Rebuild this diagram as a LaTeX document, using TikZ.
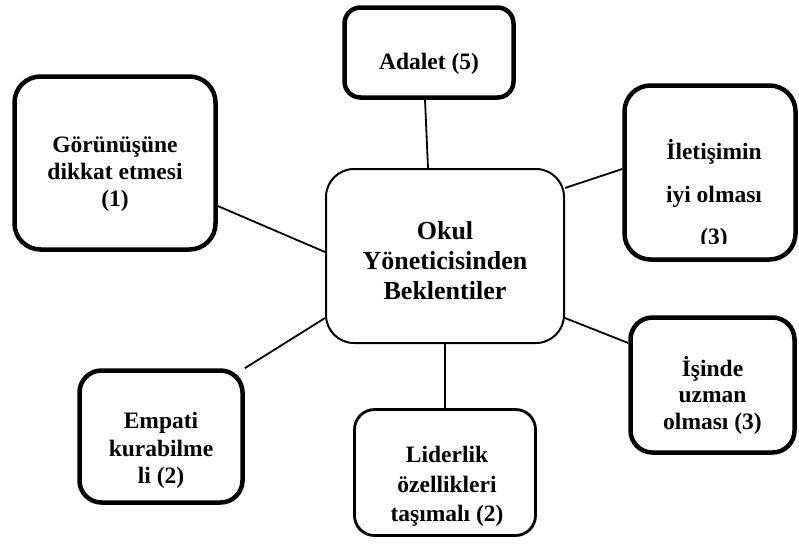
\documentclass[tikz,border=0pt]{standalone}
\usepackage{fontspec}
\setmainfont{Liberation Serif}
\begin{document}
\begin{tikzpicture}[x=1pt,y=-1pt,
  thickbox/.style={draw=black,line width=4.5pt,fill=white,inner sep=0pt},
  midbox/.style={draw=black,line width=2.8pt,fill=white,rounded corners=20pt,inner sep=0pt},
  ctrbox/.style={draw=black,line width=2pt,fill=white,rounded corners=28pt,inner sep=0pt},
  txt/.style={align=center,inner sep=0pt,font=\bfseries\fontsize{23.5}{27}\selectfont},
  conn/.style={draw=black,line width=1.8pt}]
\useasboundingbox (0,0) rectangle (799,544);

% boxes
\node[thickbox,rounded corners=16pt,minimum width=169pt,minimum height=90pt] (adb) at (429,52.5) {};
\node[thickbox,rounded corners=26pt,minimum width=201pt,minimum height=173pt] (gor) at (115,163) {};
\node[thickbox,rounded corners=26pt,minimum width=171pt,minimum height=174pt] (ilt) at (710,172.5) {};
\node[thickbox,rounded corners=22pt,minimum width=164pt,minimum height=135pt] (isn) at (712.5,385) {};
\node[thickbox,rounded corners=22pt,minimum width=163pt,minimum height=132pt] (emp) at (161,436.5) {};
\node[midbox,minimum width=181pt,minimum height=126pt] (lid) at (445,472.5) {};
\node[ctrbox,minimum width=238pt,minimum height=174pt] (ctr) at (445,256) {};

% connectors
\draw[conn] ([xshift=-4pt]adb.south) -- ([xshift=-17pt]ctr.north);
\draw[conn] ([yshift=-43pt]gor.east) -- ([yshift=4pt]ctr.west);
\draw[conn] ([yshift=3.5pt]ilt.west) -- ([yshift=68pt]ctr.east);
\draw[conn] ([yshift=42pt]isn.west) -- ([yshift=-62pt]ctr.east);
\draw[conn] (emp.north east) -- ([yshift=-62pt]ctr.west);
\draw[conn] (lid.north) -- (ctr.south);

% texts
\node[txt,yshift=-11pt] (adt) at (adb.center) {Adalet (5)};
\node[txt,yshift=-11pt] (gort) at (gor.center) {Görünüşüne\\dikkat etmesi\\(1)};
\begin{scope}
  \clip (600,80) rectangle (799,243);
  \node[txt,font=\bfseries\fontsize{23.5}{42.5}\selectfont,yshift=-22pt,xshift=4pt] (iltt) at (ilt.center) {İletişimin\\iyi olması\\(3)};
\end{scope}
\node[txt,font=\bfseries\fontsize{23.5}{26.5}\selectfont,yshift=-10pt] (isnt) at (isn.center) {İşinde\\uzman\\olması (3)};
\node[txt,font=\bfseries\fontsize{23.5}{27.5}\selectfont,yshift=-14pt] (empt) at (emp.center) {Empati\\kurabilme\\li (2)};
\node[txt,font=\bfseries\fontsize{23.5}{29.5}\selectfont,yshift=-14pt,xshift=2pt] (lidt) at (lid.center) {Liderlik\\özellikleri\\taşımalı (2)};
\node[txt,font=\bfseries\fontsize{26}{30}\selectfont,yshift=-5pt] (ctrt) at (ctr.center) {Okul\\Yöneticisinden\\Beklentiler};
\end{tikzpicture}
\end{document}
